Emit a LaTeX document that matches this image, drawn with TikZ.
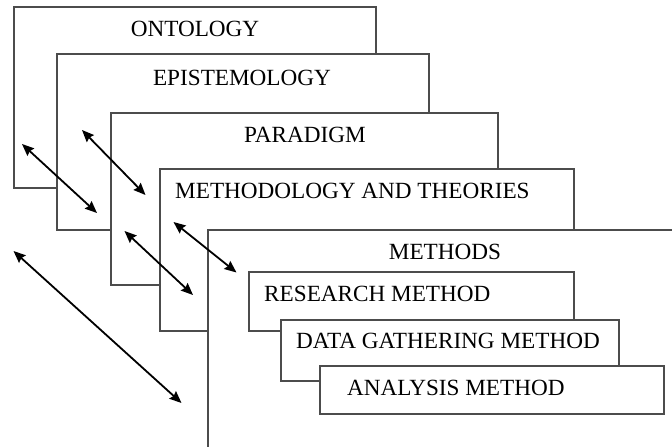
\documentclass[tikz,border=0pt]{standalone}
\usepackage{fontspec}
\setmainfont{Liberation Serif}
\usetikzlibrary{arrows.meta}
\tikzset{layer/.style={draw=black!70, fill=white, line width=1.2pt},
  lbl/.style={font=\fontsize{23.2}{27}\selectfont, inner sep=0pt},
  twoway/.style={{Stealth[length=12pt,width=10pt,inset=1.5pt]}-{Stealth[length=12pt,width=10pt,inset=1.5pt]}, line width=1.8pt}}

\begin{document}
\begin{tikzpicture}[x=1pt, y=-1pt]
      \useasboundingbox (0,0) rectangle (672,447);

      % the nested layers, back to front
      \draw [layer] (14,7) rectangle (376,188);
      \node [lbl] (ontology) at (195,28.5) {ONTOLOGY};

      \draw [layer] (57,54) rectangle (429,230);
      \node [lbl] (epistemology) at (242,78) {EPISTEMOLOGY};

      \draw [layer] (111,113) rectangle (498,285);
      \node [lbl] (paradigm) at (305,135) {PARADIGM};

      \draw [layer] (160,169) rectangle (574,331);
      \node [lbl, anchor=west] (methodology) at (175,191) {METHODOLOGY AND THEORIES};

      % methods layer runs off the page
      \fill [white] (208,230) rectangle (672,447);
      \draw [black!70, line width=1.2pt] (208,447) -- (208,230) -- (672,230);
      \node [lbl] (methods) at (445,251.5) {METHODS};

      \draw [layer] (249,272) rectangle (574,331);
      \node [lbl, anchor=west] (research) at (264,294) {RESEARCH METHOD};

      \draw [layer] (281,320) rectangle (619,381);
      \node [lbl, anchor=west] (gathering) at (296,341) {DATA GATHERING METHOD};

      \draw [layer] (320,366) rectangle (664,414);
      \node [lbl, anchor=west] (analysis) at (347,388) {ANALYSIS METHOD};

      % two-way links between the layers
      \coordinate (a1) at (22,144);
      \coordinate (b1) at (97,213);
      \coordinate (a2) at (82,130);
      \coordinate (b2) at (145.5,195);
      \coordinate (a3) at (124.5,231);
      \coordinate (b3) at (193,295);
      \coordinate (a4) at (173.5,222);
      \coordinate (b4) at (236.5,272.5);
      \coordinate (a5) at (13.5,251);
      \coordinate (b5) at (181.5,403);
      \foreach \i in {1,...,5}
        \draw [twoway] (a\i) -- (b\i);
\end{tikzpicture}
\end{document}
